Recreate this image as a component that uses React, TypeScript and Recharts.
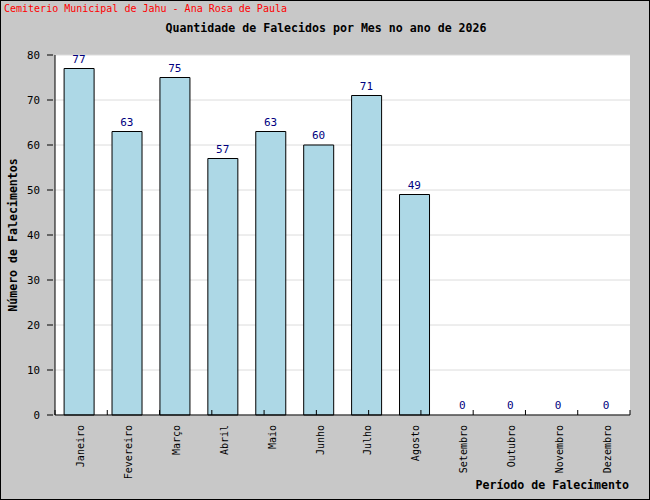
import React from 'react';
import { ComposedChart, Bar, Line, XAxis, YAxis, CartesianGrid, LabelList } from 'recharts';

const months = [
  'Janeiro', 'Fevereiro', 'Março', 'Abril', 'Maio', 'Junho',
  'Julho', 'Agosto', 'Setembro', 'Outubro', 'Novembro', 'Dezembro',
];
const deaths = [77, 63, 75, 57, 63, 60, 71, 49, 0, 0, 0, 0];
const majorTicks = [0, 10, 20, 30, 40, 50, 60, 70, 80];
const minorTicks = [5, 15, 25, 35, 45, 55, 65, 75];
const boundaryTicks = [0, 1, 2, 3, 4, 5, 6, 7, 8, 9, 10, 11, 12];

const data = months.map((mes, i) => ({ mes, total: deaths[i] }));

const FONT = '"DejaVu Sans Mono", monospace';

const YTick = (props: any) => {
  const { x, y, payload } = props;
  return (
    <g>
      <text x={x - 7} y={y} dy={4} textAnchor="end" fontFamily={FONT} fontSize={10.8} fill="#000">
        {payload.value}
      </text>
      <line x1={x} y1={y} x2={x + 6} y2={y} stroke="#000" />
    </g>
  );
};

const XTick = (props: any) => {
  const { x, y, payload } = props;
  return (
    <text
      x={x + 1}
      y={y + 2}
      transform={`rotate(-90, ${x + 1}, ${y + 2})`}
      dy={4}
      textAnchor="end"
      fontFamily={FONT}
      fontSize={10}
      fill="#000"
    >
      {payload.value}
    </text>
  );
};

export default function App() {
  return (
    <div
      style={{
        position: 'absolute',
        left: 0,
        top: 0,
        width: 648,
        height: 498,
        background: '#c8c8c8',
        border: '1px solid #000',
        fontFamily: FONT,
      }}
    >
      <div style={{ position: 'absolute', left: 3, top: 2, color: '#ff0000', fontSize: 10, whiteSpace: 'nowrap' }}>
        Cemiterio Municipal de Jahu - Ana Rosa de Paula
      </div>
      <div
        style={{
          position: 'absolute',
          left: 0,
          width: 650,
          top: 20,
          textAlign: 'center',
          fontSize: 11.6,
          fontWeight: 'bold',
          whiteSpace: 'nowrap',
        }}
      >
        Quantidade de Falecidos por Mes no ano de 2026
      </div>
      <div
        style={{
          position: 'absolute',
          right: 20,
          top: 477,
          fontSize: 11.6,
          fontWeight: 'bold',
          whiteSpace: 'nowrap',
          zIndex: 1,
        }}
      >
        Período de Falecimento
      </div>
      <div style={{ position: 'absolute', left: -1, top: -1 }}>
        <ComposedChart
          width={650}
          height={500}
          data={data}
          margin={{ top: 55, right: 20, bottom: 0, left: 0 }}
          barCategoryGap="19%"
        >
          <CartesianGrid vertical={false} stroke="#dcdcdc" fill="#fff" />
          <XAxis
            dataKey="mes"
            interval={0}
            height={85}
            tickLine={false}
            axisLine={{ stroke: '#000' }}
            tick={<XTick />}
          />
          <XAxis
            xAxisId="bounds"
            type="number"
            domain={[0, 12]}
            allowDataOverflow
            ticks={boundaryTicks}
            mirror
            tickSize={5}
            axisLine={false}
            tickLine={{ stroke: '#000' }}
            tickFormatter={() => ''}
          />
          <YAxis
            width={55}
            domain={[0, 80]}
            ticks={majorTicks}
            interval={0}
            tickLine={false}
            axisLine={{ stroke: '#000' }}
            tick={<YTick />}
            label={{
              value: 'Número de Falecimentos',
              angle: -90,
              position: 'insideLeft',
              offset: 13,
              style: { textAnchor: 'middle' },
              fontFamily: FONT,
              fontSize: 11.6,
              fontWeight: 'bold',
              fill: '#000',
            }}
          />
          <YAxis
            yAxisId="minor"
            domain={[0, 80]}
            ticks={minorTicks}
            interval={0}
            mirror
            tickSize={4}
            axisLine={false}
            tickLine={{ stroke: '#000' }}
            tickFormatter={() => ''}
          />
          <Bar dataKey="total" fill="#add8e6" stroke="#000" strokeWidth={1} isAnimationActive={false} />
          <Line
            dataKey="total"
            stroke="none"
            dot={false}
            activeDot={false}
            legendType="none"
            isAnimationActive={false}
          >
            <LabelList
              dataKey="total"
              position="top"
              offset={6}
              fill="#000080"
              fontFamily={FONT}
              fontSize={11}
            />
          </Line>
        </ComposedChart>
      </div>
    </div>
  );
}
